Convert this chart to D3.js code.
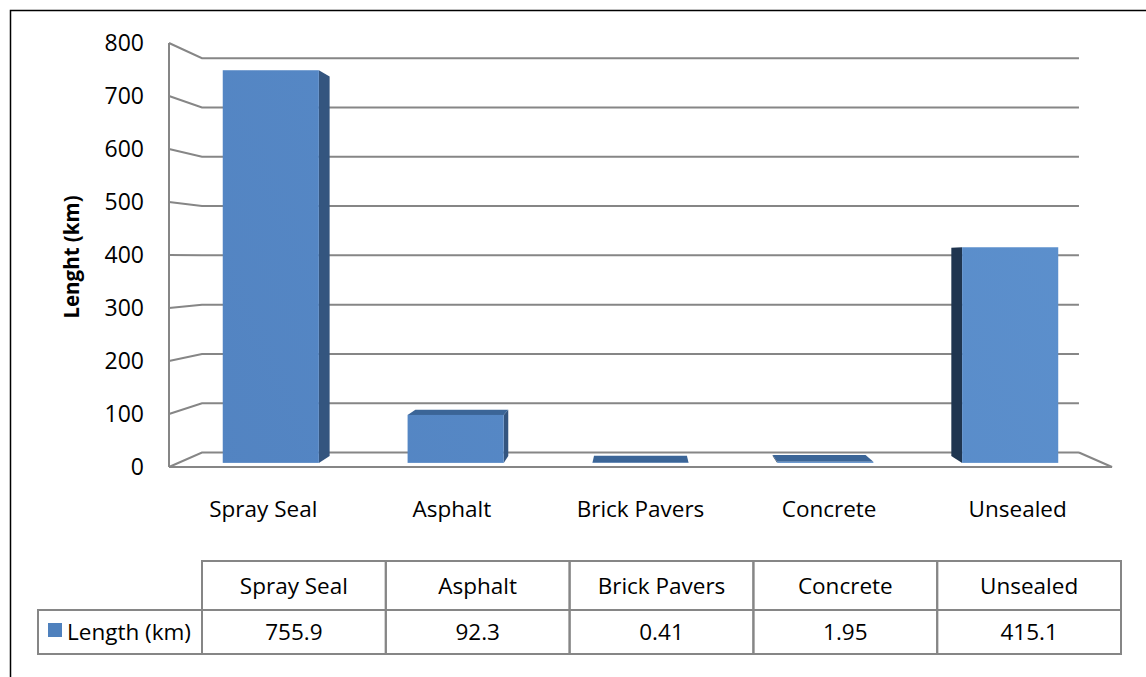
<!DOCTYPE html>
<html>
<head>
<meta charset="utf-8">
<script src="https://cdn.jsdelivr.net/npm/d3@7"></script>
<style>
  body { margin: 0; background: #fff; }
  text { font-family: "Open Sans", sans-serif; fill: #000; }
</style>
</head>
<body>
<div id="chart"></div>
<script>
// data
let categories = ["Spray Seal", "Asphalt", "Brick Pavers", "Concrete", "Unsealed"];
let lengths = [755.9, 92.3, 0.41, 1.95, 415.1];
let yTicks = [0, 100, 200, 300, 400, 500, 600, 700, 800];
let seriesName = "Length (km)";
let axisTitle = "Lenght (km)";

function chart() {
  let svg_width = 1146;
  let svg_height = 677;

  let svg = d3.select("#chart")
    .append("svg")
    .attr("width", svg_width)
    .attr("height", svg_height);

  // outer border
  svg.append("rect")
    .attr("x", 10.5).attr("y", 10.5)
    .attr("width", 1150).attr("height", 680)
    .attr("fill", "none")
    .attr("stroke", "#000")
    .attr("stroke-width", 1.5);

  // front plane scales
  let xScale = d3.scaleBand()
    .domain(categories)
    .range([169, 1112])
    .paddingInner(0.48)
    .paddingOuter(0.24);

  let yScale = d3.scaleLinear()
    .domain([0, 800])
    .range([467, 43]);

  // simple perspective: depth z 0 (front) .. 1 (back wall)
  let vp = { x: 640, y: 260 };
  let k = 1 / 0.93 - 1;
  function proj(x, y, z) {
    let s = 1 / (1 + k * z);
    return [vp.x + (x - vp.x) * s, vp.y + (y - vp.y) * s];
  }
  let line = d3.line();

  let defs = svg.append("defs");
  let grad = defs.append("linearGradient")
    .attr("id", "frontGrad")
    .attr("gradientUnits", "userSpaceOnUse")
    .attr("x1", 169).attr("y1", 467)
    .attr("x2", 1112).attr("y2", 43);
  grad.append("stop").attr("offset", "0%").attr("stop-color", "#5283c1");
  grad.append("stop").attr("offset", "100%").attr("stop-color", "#5d91ce");

  let x0 = 169, x1 = 1112;
  let grid = svg.append("g")
    .attr("fill", "none")
    .attr("stroke", "#868686")
    .attr("stroke-width", 2);

  // gridlines on side wall + back wall
  grid.selectAll("path.grid")
    .data(yTicks)
    .enter()
    .append("path")
    .attr("class", "grid")
    .attr("d", d => line([[x0, yScale(d)], proj(x0, yScale(d), 1), proj(x1, yScale(d), 1)]));

  // floor front edge and right edge
  grid.append("path")
    .attr("d", line([[x0, yScale(0)], [x1, yScale(0)], proj(x1, yScale(0), 1)]));

  // vertical axis line
  grid.append("path")
    .attr("d", line([[x0, yScale(0)], [x0, yScale(800)]]));

  // tick labels
  svg.append("g")
    .selectAll("text")
    .data(yTicks)
    .enter()
    .append("text")
    .attr("x", 144)
    .attr("y", d => yScale(d))
    .attr("dy", "0.36em")
    .attr("text-anchor", "end")
    .attr("font-size", "23px")
    .text(d => d);

  // bars
  let zf = 0.27, zb = 0.74;
  let bars = svg.append("g");
  categories.forEach(function(c, i) {
    let xl = xScale(c);
    let xr = xl + xScale.bandwidth();
    let yb = yScale(0);
    let yt = yScale(lengths[i]);
    let g = bars.append("g");

    // side face
    if (xr < vp.x) {
      g.append("path")
        .attr("d", line([proj(xr, yb, zf), proj(xr, yb, zb), proj(xr, yt, zb), proj(xr, yt, zf)]) + "Z")
        .attr("fill", "#34557f");
    } else if (xl > vp.x) {
      g.append("path")
        .attr("d", line([proj(xl, yb, zf), proj(xl, yb, zb), proj(xl, yt, zb), proj(xl, yt, zf)]) + "Z")
        .attr("fill", "#1f3550");
    }
    // top face
    if (yt > vp.y) {
      g.append("path")
        .attr("d", line([proj(xl, yt, zf), proj(xr, yt, zf), proj(xr, yt, zb), proj(xl, yt, zb)]) + "Z")
        .attr("fill", "#3b6597");
    }
    // front face
    let p1 = proj(xl, yt, zf), p2 = proj(xr, yb, zf);
    g.append("rect")
      .attr("x", p1[0]).attr("y", p1[1])
      .attr("width", p2[0] - p1[0])
      .attr("height", Math.max(0, p2[1] - p1[1]))
      .attr("fill", "url(#frontGrad)");
  });

  // category labels
  svg.append("g")
    .selectAll("text")
    .data(categories)
    .enter()
    .append("text")
    .attr("x", d => xScale(d) + xScale.bandwidth() / 2)
    .attr("y", 509)
    .attr("dy", "0.36em")
    .attr("text-anchor", "middle")
    .attr("font-size", "22.5px")
    .text(d => d);

  // axis title
  svg.append("text")
    .attr("transform", "translate(72, 257) rotate(-90)")
    .attr("dy", "0.36em")
    .attr("text-anchor", "middle")
    .attr("font-size", "20.5px")
    .attr("font-weight", "bold")
    .text(axisTitle);

  // data table
  let colX = d3.scaleBand()
    .domain(categories)
    .range([202, 1121]);
  let rowTop = 561, rowMid = 610, rowBot = 654;
  let table = svg.append("g");

  table.selectAll("rect.head")
    .data(categories)
    .enter()
    .append("rect")
    .attr("x", d => colX(d))
    .attr("y", rowTop)
    .attr("width", colX.bandwidth())
    .attr("height", rowMid - rowTop)
    .attr("fill", "none")
    .attr("stroke", "#868686")
    .attr("stroke-width", 2);

  table.selectAll("rect.val")
    .data(categories)
    .enter()
    .append("rect")
    .attr("x", d => colX(d))
    .attr("y", rowMid)
    .attr("width", colX.bandwidth())
    .attr("height", rowBot - rowMid)
    .attr("fill", "none")
    .attr("stroke", "#868686")
    .attr("stroke-width", 2);

  table.append("rect")
    .attr("x", 38)
    .attr("y", rowMid)
    .attr("width", 202 - 38)
    .attr("height", rowBot - rowMid)
    .attr("fill", "none")
    .attr("stroke", "#868686")
    .attr("stroke-width", 2);

  table.selectAll("text.head")
    .data(categories)
    .enter()
    .append("text")
    .attr("x", d => colX(d) + colX.bandwidth() / 2)
    .attr("y", (rowTop + rowMid) / 2)
    .attr("dy", "0.36em")
    .attr("text-anchor", "middle")
    .attr("font-size", "22.5px")
    .text(d => d);

  table.selectAll("text.val")
    .data(lengths)
    .enter()
    .append("text")
    .attr("x", (d, i) => colX(categories[i]) + colX.bandwidth() / 2)
    .attr("y", (rowMid + rowBot) / 2)
    .attr("dy", "0.36em")
    .attr("text-anchor", "middle")
    .attr("font-size", "22.5px")
    .text(d => d);

  // legend key in table
  table.append("rect")
    .attr("x", 48).attr("y", 623)
    .attr("width", 14).attr("height", 14)
    .attr("fill", "#4f81bd");

  table.append("text")
    .attr("x", 67)
    .attr("y", (rowMid + rowBot) / 2)
    .attr("dy", "0.36em")
    .attr("font-size", "22.5px")
    .text(seriesName);
}

chart();
</script>
</body>
</html>
